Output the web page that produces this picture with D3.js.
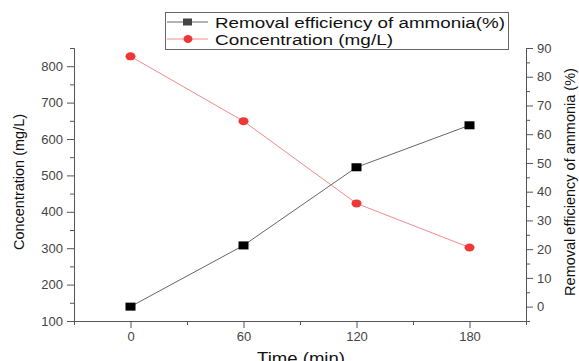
<!DOCTYPE html>
<html>
<head>
<meta charset="utf-8">
<script src="https://cdn.jsdelivr.net/npm/d3@7"></script>
<style>
  body { margin: 0; background: #fff; }
  svg { font-family: "Liberation Sans", Arial, sans-serif; }
</style>
</head>
<body>
<div id="chart"></div>
<script>
// data
var times = [0, 60, 120, 180];
var concentration = [827, 649, 423, 302];      // mg/L, left axis
var removal = [0, 21.3, 48.5, 63.1];           // %, right axis
var xTicks = [0, 60, 120, 180];
var leftTicks = [100, 200, 300, 400, 500, 600, 700, 800];
var rightTicks = [0, 10, 20, 30, 40, 50, 60, 70, 80, 90];
var seriesNames = ["Removal efficiency of ammonia(%)", "Concentration (mg/L)"];

(function () {
var w = 579, h = 361;
var padLeft = 74, padRight = 526, padTop = 48, padBottom = 321;
var axisColor = "#555";

var svg = d3.select("#chart").append("svg").attr("width", w).attr("height", h);

var x = d3.scaleLinear().domain([-30, 210]).range([padLeft, padRight]);
var yL = d3.scaleLinear().domain([100, 850]).range([padBottom, padTop]);
var yR = d3.scaleLinear().domain([-5, 90]).range([padBottom, padTop]);

function styleAxis(g) {
    g.selectAll("path,line").attr("stroke", axisColor);
    g.selectAll("text").attr("fill", "#444").attr("font-size", "13px")
        .attr("font-family", "Liberation Sans, Arial, sans-serif");
}

// minor ticks
svg.append("g").attr("transform", "translate(0," + padBottom + ")")
    .call(d3.axisBottom(x).tickValues([-30, 30, 90, 150, 210]).tickSize(4).tickFormat(""))
    .call(styleAxis);
svg.append("g").attr("transform", "translate(" + padLeft + ",0)")
    .call(d3.axisLeft(yL).tickValues(d3.range(150, 851, 100)).tickSize(4).tickFormat(""))
    .call(styleAxis);
svg.append("g").attr("transform", "translate(" + padRight + ",0)")
    .call(d3.axisRight(yR).tickValues(d3.range(-5, 90, 10)).tickSize(4).tickFormat(""))
    .call(styleAxis);

// major ticks
svg.append("g").attr("transform", "translate(0," + padBottom + ")")
    .call(d3.axisBottom(x).tickValues(xTicks).tickSize(7).tickSizeOuter(0).tickPadding(4))
    .call(styleAxis);
svg.append("g").attr("transform", "translate(" + padLeft + ",0)")
    .call(d3.axisLeft(yL).tickValues(leftTicks).tickSize(7).tickSizeOuter(0).tickPadding(4))
    .call(styleAxis);
svg.append("g").attr("transform", "translate(" + padRight + ",0)")
    .call(d3.axisRight(yR).tickValues(rightTicks).tickSize(7).tickSizeOuter(0).tickPadding(4))
    .call(styleAxis);

// axis titles (the x title is cut by the bottom edge, as in the figure)
svg.append("text").attr("x", 301).attr("y", 364).attr("text-anchor", "middle")
    .attr("font-size", "16px").attr("fill", "#111")
    .attr("textLength", 88).attr("lengthAdjust", "spacingAndGlyphs").text("Time (min)");
svg.append("text").attr("transform", "translate(24,182) rotate(-90)").attr("text-anchor", "middle")
    .attr("font-size", "14.5px").attr("fill", "#111").text("Concentration (mg/L)");
svg.append("text").attr("transform", "translate(575,182) rotate(-90)").attr("text-anchor", "middle")
    .attr("font-size", "14.5px").attr("fill", "#111").text("Removal efficiency of ammonia (%)");

// lines
var lineRemoval = d3.line().x(function (d, i) { return x(times[i]); }).y(function (d) { return yR(d); });
var lineConc = d3.line().x(function (d, i) { return x(times[i]); }).y(function (d) { return yL(d); });

svg.append("path").attr("d", lineRemoval(removal)).attr("fill", "none").attr("stroke", "#666").attr("stroke-width", 1);
svg.append("path").attr("d", lineConc(concentration)).attr("fill", "none").attr("stroke", "#f28a8a").attr("stroke-width", 1);

svg.selectAll("rect.sq").data(removal).enter().append("rect").attr("class", "sq")
    .attr("x", function (d, i) { return x(times[i]) - 5; })
    .attr("y", function (d) { return yR(d) - 4; })
    .attr("width", 10).attr("height", 8).attr("fill", "#000");

svg.selectAll("ellipse.pt").data(concentration).enter().append("ellipse").attr("class", "pt")
    .attr("cx", function (d, i) { return x(times[i]); })
    .attr("cy", function (d) { return yL(d); })
    .attr("rx", 5).attr("ry", 4).attr("fill", "#ee3737");

// legend
var lg = svg.append("g");
lg.append("rect").attr("x", 165.5).attr("y", 12.5).attr("width", 343).attr("height", 37)
    .attr("fill", "#fff").attr("stroke", "#666");
var rowY = [22, 39];
var textLen = [290, 178];
lg.selectAll("line.l").data(seriesNames).enter().append("line")
    .attr("x1", 167).attr("x2", 208)
    .attr("y1", function (d, i) { return rowY[i]; }).attr("y2", function (d, i) { return rowY[i]; })
    .attr("stroke", function (d, i) { return i == 0 ? "#666" : "#f28a8a"; });
lg.append("rect").attr("x", 183).attr("y", rowY[0] - 3.5).attr("width", 9).attr("height", 7).attr("fill", "#444");
lg.append("ellipse").attr("cx", 188).attr("cy", rowY[1]).attr("rx", 4.5).attr("ry", 4).attr("fill", "#ee3737");
lg.selectAll("text").data(seriesNames).enter().append("text")
    .attr("x", 215).attr("y", function (d, i) { return rowY[i] + 5.5; })
    .attr("font-size", "15.5px").attr("fill", "#111")
    .attr("textLength", function (d, i) { return textLen[i]; })
    .attr("lengthAdjust", "spacingAndGlyphs")
    .text(function (d) { return d; });
})();
</script>
</body>
</html>
